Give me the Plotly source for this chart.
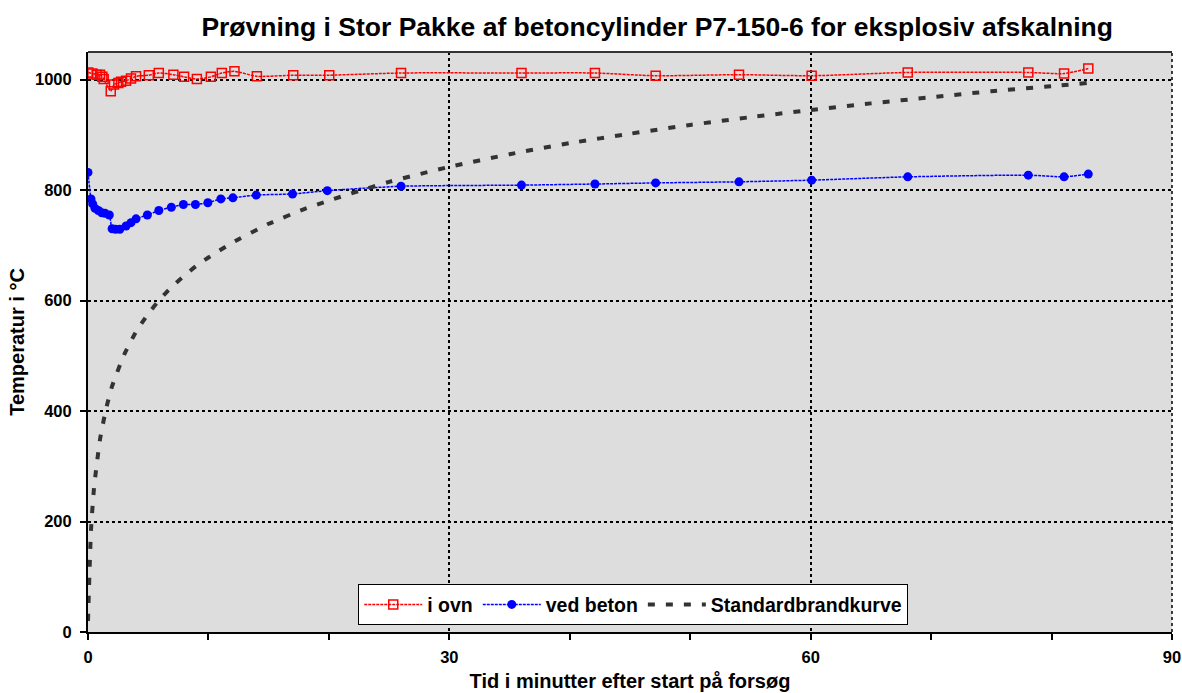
import plotly.graph_objects as go

# i ovn (furnace)
ovn_t = [0.02, 0.36, 0.72, 1.0, 1.19, 1.3, 1.89, 2.16, 2.52, 2.74, 3.16, 3.57, 3.99, 5.05, 5.88,
         7.09, 7.98, 9.04, 10.2, 11.11, 12.16, 14.02, 17.04, 20.03, 25.99, 35.99, 42.09, 47.13,
         54.05, 60.08, 68.06, 78.07, 81.04, 83.05]
ovn_T = [1013, 1011, 1009, 1009, 1005, 1001, 979, 991, 994, 996, 998, 1002, 1006, 1008, 1012,
         1009, 1005, 1001, 1005, 1012, 1015, 1006, 1008, 1008, 1012, 1012, 1012, 1007,
         1009, 1007, 1013, 1013, 1011, 1020]

# ved beton (at concrete)
beton_t = [0.0, 0.25, 0.39, 0.58, 0.86, 1.14, 1.41, 1.77, 2.0, 2.29, 2.64, 3.16, 3.57, 3.99,
           4.93, 5.88, 6.92, 7.92, 8.92, 9.95, 11.03, 12.03, 13.97, 16.98, 19.87, 25.99,
           35.99, 42.09, 47.13, 54.05, 60.08, 68.06, 78.07, 81.04, 83.05]
beton_T = [832, 784, 775, 767, 763, 759, 758, 755, 730, 729, 729, 735, 741, 748,
           755, 763, 769, 774, 774, 777, 784, 786, 791, 793, 799, 807,
           809, 811, 813, 815, 818, 824, 827, 824, 829]

# Standardbrandkurve
std_t = [0, 0.25, 0.5, 1, 1.5, 2, 3, 4, 5, 6, 7, 8, 9, 10, 12, 15, 18, 20, 25, 30, 35, 40,
         45, 50, 55, 60, 65, 70, 75, 80, 83]
std_T = [20, 185, 261, 349, 404, 445, 502, 544, 576, 603, 626, 645, 663, 678, 705, 739, 766,
         781, 815, 842, 865, 885, 902, 918, 932, 945, 957, 968, 979, 988, 994]

x_ticks = [0, 30, 60, 90]
y_ticks = [0, 200, 400, 600, 800, 1000]

FONT = "Liberation Sans, Arial, sans-serif"

fig = go.Figure()
fig.add_trace(go.Scatter(
    x=ovn_t, y=ovn_T, name="i ovn", mode="lines+markers",
    line=dict(color="#ff0000", width=1.5, dash="3px,1px", shape="spline", smoothing=0.6),
    marker=dict(symbol="square-open", size=9, color="#ff0000", line=dict(width=1.5, color="#ff0000")),
))
fig.add_trace(go.Scatter(
    x=beton_t, y=beton_T, name="ved beton", mode="lines+markers",
    line=dict(color="#0000ff", width=1.5, dash="3px,1px", shape="spline", smoothing=0.6),
    marker=dict(symbol="circle", size=9, color="#0000ff"),
))
fig.add_trace(go.Scatter(
    x=std_t, y=std_T, name="Standardbrandkurve", mode="lines",
    line=dict(color="#333333", width=4, dash="7px,11px", shape="spline", smoothing=0.5),
))

fig.update_layout(
    width=1182, height=693,
    margin=dict(l=88, r=10, t=52, b=61, autoexpand=False),
    paper_bgcolor="white", plot_bgcolor="#dddddd",
    font=dict(family=FONT, color="black", size=15),
    title=dict(text="<b>Prøvning i Stor Pakke af betoncylinder P7-150-6 for eksplosiv afskalning</b>",
               x=0.556, xanchor="center", y=0.962, yanchor="middle",
               font=dict(size=26.5, family=FONT, color="black")),
    showlegend=True,
    legend=dict(orientation="h", x=0.503, xanchor="center", y=0.047, yanchor="middle",
                bgcolor="white", bordercolor="black", borderwidth=1,
                font=dict(size=19.5, family=FONT, color="black", weight="bold"),
                itemwidth=58, tracegroupgap=0),
)

fig.update_xaxes(
    range=[0, 90], tickvals=x_ticks, ticktext=[f"<b>{v}</b>" for v in x_ticks],
    showline=True, linecolor="black", linewidth=2, mirror=False,
    ticks="outside", ticklen=6, tickwidth=2, tickcolor="black", ticklabelstandoff=3,
    minor=dict(dtick=10, ticks="outside", ticklen=6, tickwidth=2, tickcolor="black", showgrid=False),
    showgrid=True, gridcolor="black", gridwidth=1.5, griddash="dot",
    zeroline=False, tickfont=dict(size=16.5), automargin=False, ticklabeloverflow="allow",
    title=dict(text="<b>Tid i minutter efter start på forsøg</b>", font=dict(size=20), standoff=9),
)
fig.update_yaxes(
    range=[0, 1050], tickvals=y_ticks, ticktext=[f"<b>{v}</b>" for v in y_ticks],
    showline=True, linecolor="black", linewidth=2, mirror=False,
    ticks="outside", ticklen=6, tickwidth=2, tickcolor="black", ticklabelstandoff=5,
    showgrid=True, gridcolor="black", gridwidth=1.5, griddash="dot",
    zeroline=False, tickfont=dict(size=16.5), automargin=False,
    title=dict(text="<b>Temperatur i °C</b>", font=dict(size=20), standoff=5),
)

# plot area border (top solid, right dotted)
fig.add_shape(type="line", xref="paper", yref="paper", x0=0, x1=1, y0=1, y1=1,
              line=dict(color="#333333", width=2))
fig.add_shape(type="line", xref="paper", yref="paper", x0=1, x1=1, y0=0, y1=1,
              line=dict(color="black", width=1.5, dash="dot"))

fig.write_html("out.html", config={"displayModeBar": False},
               post_script="document.body.style.margin='0';document.body.style.overflow='hidden';")
